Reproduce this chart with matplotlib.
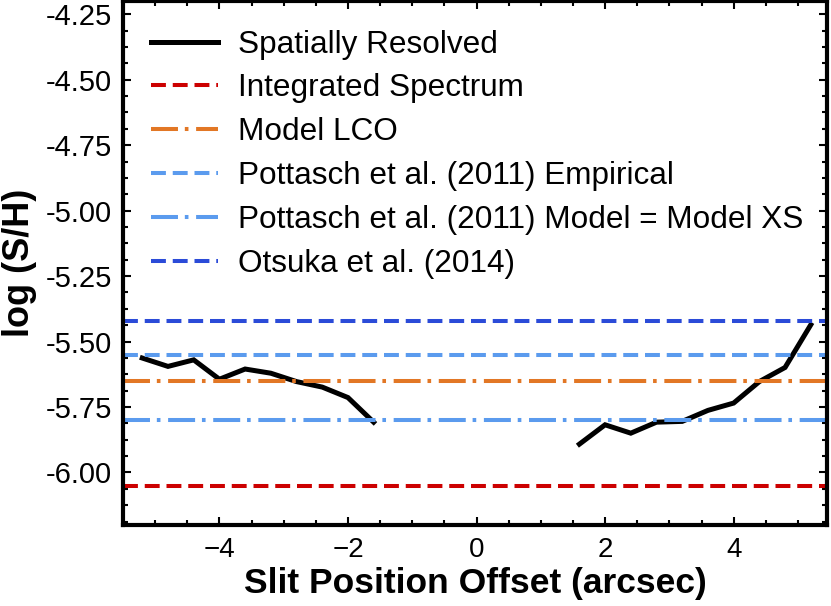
import numpy as np
import matplotlib
matplotlib.use("Agg")
import matplotlib.pyplot as plt
from matplotlib.ticker import AutoMinorLocator, FormatStrFormatter, MultipleLocator

plt.rcParams['font.family'] = ['Liberation Sans', 'DejaVu Sans']

# slit positions (arcsec) and log(S/H), two sides of the slit
x_left = [-5.2, -4.8, -4.4, -4.0, -3.6, -3.2, -2.8, -2.4, -2.0, -1.6]
y_left = [-5.563, -5.595, -5.570, -5.644, -5.605, -5.621, -5.653, -5.674, -5.714, -5.808]
x_right = [1.6, 2.0, 2.4, 2.8, 3.2, 3.6, 4.0, 4.4, 4.8, 5.2]
y_right = [-5.892, -5.818, -5.850, -5.808, -5.805, -5.763, -5.735, -5.653, -5.599, -5.436]

# reference abundances
integrated = -6.05
model_lco = -5.65
pottasch_emp = -5.55
pottasch_model = -5.80
otsuka = -5.42

fig = plt.figure(figsize=(8.31, 6.06), dpi=100)
ax = fig.add_axes([0.148, 0.134, 0.847, 0.864])

xs = x_left + [np.nan] + x_right
ys = y_left + [np.nan] + y_right
ax.plot(xs, ys, color='black', lw=3.6, solid_joinstyle='miter', label='Spatially Resolved')
ax.axhline(integrated, color='#CC0000', lw=2.9, dashes=(3.7, 1.7), label='Integrated Spectrum')
ax.axhline(model_lco, color='#E27725', lw=2.9, dashes=(6.7, 1.7, 0.9, 1.9), label='Model LCO')
ax.axhline(pottasch_emp, color='#5B9BEE', lw=2.9, dashes=(3.7, 1.7), label='Pottasch et al. (2011) Empirical')
ax.axhline(pottasch_model, color='#5B9BEE', lw=2.9, dashes=(6.7, 1.7, 0.9, 1.9),
           label='Pottasch et al. (2011) Model = Model XS')
ax.axhline(otsuka, color='#2B4BD8', lw=2.9, dashes=(3.7, 1.7), label='Otsuka et al. (2014)')

ax.set_xlim(-5.5, 5.45)
ax.set_ylim(-6.2, -4.2)

ax.xaxis.set_major_locator(MultipleLocator(2))
ax.xaxis.set_minor_locator(AutoMinorLocator(4))
ax.yaxis.set_major_locator(MultipleLocator(0.25))
ax.yaxis.set_minor_locator(AutoMinorLocator(4))
ax.yaxis.set_major_formatter(FormatStrFormatter('%.2f'))

ax.tick_params(which='both', direction='in', top=True, right=True, width=1.5)
ax.tick_params(which='major', length=6)
ax.tick_params(which='minor', length=3.5)
ax.tick_params(axis='y', labelsize=21, pad=8)
ax.tick_params(axis='x', labelsize=20, pad=9)
for s in ax.spines.values():
    s.set_linewidth(3)

ax.set_xlabel('Slit Position Offset (arcsec)', fontsize=25.5, fontweight='bold', labelpad=3)
ax.set_ylabel('log (S/H)', fontsize=26, fontweight='bold', labelpad=6)

ax.legend(loc='upper left', frameon=False, fontsize=22.7, handlelength=2.1, handletextpad=0.65,
          labelspacing=0.44, borderaxespad=0.5)

fig.savefig('out.png', dpi=100)
